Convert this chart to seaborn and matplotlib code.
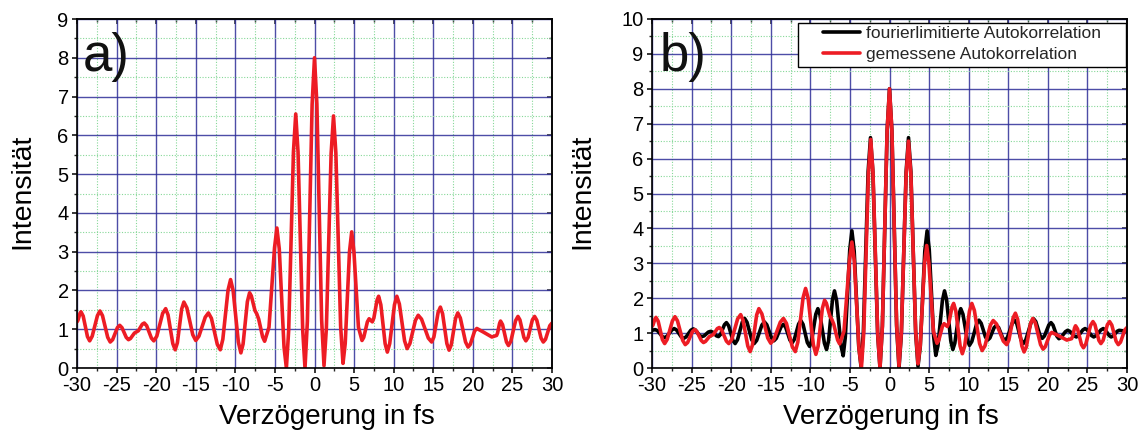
import numpy as np
import pandas as pd
import matplotlib
matplotlib.use("Agg")
import matplotlib.pyplot as plt
import seaborn as sns
from matplotlib.ticker import MultipleLocator, FormatStrFormatter, NullFormatter
from matplotlib.patches import Rectangle

# ---------------- data ----------------
# measured autocorrelation (red), panels a) and b)
meas_x = [-30.0, -29.88, -29.62, -29.5, -29.22, -28.68, -28.4, -28.08, -27.42, -27.1,
          -26.78, -26.12, -25.8, -25.5, -24.9, -24.6, -24.32, -23.78, -23.5, -23.25,
          -22.75, -22.5, -22.25, -21.75, -21.5, -21.2, -20.6, -20.3, -19.92, -19.18,
          -18.8, -18.5, -17.9, -17.6, -17.32, -16.78, -16.5, -16.12, -15.38, -15.0,
          -14.6, -13.8, -13.4, -13.02, -12.28, -11.9, -11.58, -10.92, -10.6, -10.28,
          -9.62, -9.3, -9.02, -8.48, -8.2, -7.98, -7.52, -7.3, -7.05, -6.55,
          -6.3, -5.75, -5.05, -4.75, -4.45, -3.85, -3.55, -3.26, -2.66, -2.37,
          -2.08, -1.49, -1.2, -0.9, -0.3, 0.0, 0.3, 0.9, 1.2, 1.5,
          2.1, 2.4, 2.7, 3.3, 3.6, 3.88, 4.42, 4.7, 4.98, 5.55,
          6.0, 6.22, 6.68, 6.9, 7.3, 7.5, 7.9, 8.1, 8.38, 8.92,
          9.2, 9.5, 10.1, 10.4, 10.72, 11.38, 11.7, 12.05, 12.75, 13.1,
          13.52, 14.38, 14.8, 15.08, 15.62, 15.9, 16.18, 16.72, 17.0, 17.28,
          17.82, 18.1, 18.42, 19.08, 19.4, 19.68, 20.22, 20.5, 21.3, 22.4,
          23.0, 23.12, 23.38, 23.5, 23.75, 24.25, 24.5, 24.8, 25.4, 25.7,
          25.95, 26.45, 26.7, 26.98, 27.52, 27.8, 28.08, 28.62, 28.9, 29.18,
          29.72, 30.0]
meas_y = [1.19, 1.23, 1.41, 1.45, 1.34, 0.81, 0.70, 0.82, 1.35, 1.47,
          1.35, 0.79, 0.67, 0.73, 1.04, 1.10, 1.04, 0.79, 0.73, 0.76,
          0.90, 0.93, 0.96, 1.13, 1.16, 1.09, 0.77, 0.70, 0.82, 1.41,
          1.53, 1.37, 0.63, 0.47, 0.65, 1.52, 1.70, 1.55, 0.86, 0.71,
          0.82, 1.31, 1.42, 1.28, 0.61, 0.47, 0.74, 2.01, 2.28, 2.00,
          0.67, 0.39, 0.62, 1.71, 1.94, 1.86, 1.48, 1.40, 1.26, 0.80,
          0.69, 1.05, 3.10, 3.61, 3.07, 0.54, 0.00, 0.98, 5.57, 6.55,
          5.57, 0.98, 0.00, 1.20, 6.80, 8.00, 6.81, 1.25, 0.06, 1.03,
          5.53, 6.50, 5.54, 1.08, 0.12, 0.63, 3.00, 3.51, 3.00, 1.05,
          0.71, 0.79, 1.19, 1.27, 1.19, 1.29, 1.75, 1.85, 1.63, 0.63,
          0.41, 0.63, 1.63, 1.85, 1.65, 0.70, 0.50, 0.63, 1.23, 1.36,
          1.26, 0.77, 0.67, 0.80, 1.44, 1.57, 1.40, 0.63, 0.46, 0.60,
          1.28, 1.42, 1.29, 0.67, 0.54, 0.61, 0.95, 1.02, 0.93, 0.80,
          0.84, 0.90, 1.15, 1.21, 1.12, 0.67, 0.58, 0.69, 1.22, 1.33,
          1.24, 0.79, 0.70, 0.79, 1.24, 1.33, 1.23, 0.77, 0.67, 0.74,
          1.09, 1.16]

# Fourier-limited autocorrelation (black), panel b)
fl_x = [-30.0, -29.6, -29.3, -28.7, -28.4, -28.1, -27.5, -27.2, -26.9, -26.3,
        -26.0, -25.7, -25.1, -24.8, -24.52, -23.98, -23.7, -23.42, -22.88, -22.6,
        -22.35, -21.85, -21.6, -21.35, -20.85, -20.6, -20.32, -19.78, -19.5, -19.2,
        -18.6, -18.3, -18.0, -17.4, -17.1, -16.78, -16.12, -15.8, -15.5, -14.9,
        -14.6, -14.3, -13.7, -13.4, -13.12, -12.58, -12.3, -12.02, -11.48, -11.2,
        -10.92, -10.38, -10.1, -9.84, -9.31, -9.05, -8.78, -8.22, -7.95, -7.7,
        -7.2, -6.95, -6.68, -6.12, -5.85, -5.58, -5.02, -4.75, -4.46, -3.89,
        -3.6, -3.3, -2.7, -2.4, -2.1, -1.5, -1.2, -0.9, -0.3, 0.0,
        0.3, 0.9, 1.2, 1.5, 2.1, 2.4, 2.7, 3.3, 3.6, 3.89,
        4.46, 4.75, 5.02, 5.58, 5.85, 6.12, 6.68, 6.95, 7.21, 7.74,
        8.0, 8.25, 8.75, 9.0, 9.28, 9.82, 10.1, 10.4, 11.0, 11.3,
        11.58, 12.12, 12.4, 12.68, 13.22, 13.5, 13.78, 14.32, 14.6, 14.9,
        15.5, 15.8, 16.08, 16.62, 16.9, 17.22, 17.88, 18.2, 18.48, 19.02,
        19.3, 19.58, 20.12, 20.4, 20.65, 21.15, 21.4, 21.68, 22.22, 22.5,
        22.78, 23.32, 23.6, 23.88, 24.42, 24.7, 24.98, 25.52, 25.8, 26.1,
        26.7, 27.0, 27.25, 27.75, 28.0, 28.25, 28.75, 29.0, 30.0]
fl_y = [1.08, 1.10, 1.07, 0.90, 0.87, 0.91, 1.09, 1.13, 1.09, 0.89,
        0.85, 0.89, 1.08, 1.12, 1.09, 0.93, 0.90, 0.92, 1.03, 1.05,
        1.03, 0.92, 0.90, 0.96, 1.24, 1.30, 1.21, 0.79, 0.70, 0.81,
        1.31, 1.42, 1.31, 0.81, 0.70, 0.79, 1.23, 1.32, 1.24, 0.86,
        0.78, 0.85, 1.18, 1.25, 1.17, 0.80, 0.72, 0.82, 1.26, 1.36,
        1.25, 0.73, 0.62, 0.78, 1.54, 1.70, 1.52, 0.71, 0.53, 0.78,
        1.96, 2.21, 1.93, 0.63, 0.35, 0.89, 3.39, 3.93, 3.35, 0.63,
        0.05, 1.03, 5.62, 6.60, 5.61, 0.99, 0.00, 1.20, 6.80, 8.00,
        6.80, 1.20, 0.00, 0.99, 5.61, 6.60, 5.62, 1.03, 0.05, 0.63,
        3.35, 3.93, 3.39, 0.90, 0.36, 0.64, 1.93, 2.21, 1.96, 0.78,
        0.53, 0.71, 1.52, 1.70, 1.54, 0.81, 0.65, 0.76, 1.26, 1.37,
        1.28, 0.89, 0.80, 0.86, 1.16, 1.22, 1.16, 0.85, 0.79, 0.88,
        1.28, 1.37, 1.27, 0.80, 0.70, 0.81, 1.30, 1.41, 1.33, 0.93,
        0.85, 0.92, 1.23, 1.30, 1.23, 0.91, 0.84, 0.88, 1.04, 1.08,
        1.05, 0.92, 0.89, 0.93, 1.09, 1.13, 1.09, 0.93, 0.89, 0.93,
        1.09, 1.13, 1.09, 0.93, 0.89, 0.92, 1.05, 1.08, 1.05]

labels = ["fourierlimitierte Autokorrelation", "gemessene Autokorrelation"]
xlabel = "Verzögerung in fs"
ylabel = "Intensität"
panel_tags = ["a)", "b)"]

# ---------------- style ----------------
sns.set_theme(style="white")
plt.rcParams["font.family"] = ["Liberation Sans", "DejaVu Sans"]
plt.rcParams["axes.unicode_minus"] = False

RED = "#ED1C24"
BLACK = "#000000"
GRID_MAJ = "#2e2e98"
GRID_MIN = "#86d898"
LW = 2.6

W, H = 1146, 442
fig = plt.figure(figsize=(W / 100, H / 100), dpi=100)

def px_axes(x0, x1, y0, y1):
    return fig.add_axes([x0 / W, 1 - y1 / H, (x1 - x0) / W, (y1 - y0) / H])

axA = px_axes(77, 552, 19, 368)
axB = px_axes(652, 1127, 19, 368)

df_meas = pd.DataFrame({"x": meas_x, "y": meas_y})
df_fl = pd.DataFrame({"x": fl_x, "y": fl_y})

def style_axes(ax, ymax):
    ax.set_xlim(-30, 30)
    ax.set_ylim(0, ymax)
    ax.xaxis.set_major_locator(MultipleLocator(5))
    ax.xaxis.set_minor_locator(MultipleLocator(2.5))
    ax.yaxis.set_major_locator(MultipleLocator(1))
    ax.yaxis.set_minor_locator(MultipleLocator(0.5))
    ax.xaxis.set_major_formatter(FormatStrFormatter("%d"))
    ax.yaxis.set_major_formatter(FormatStrFormatter("%d"))
    ax.set_axisbelow(True)
    ax.grid(which="minor", color=GRID_MIN, lw=0.8, ls=(0, (1, 1.5)))
    ax.grid(which="major", color=GRID_MAJ, lw=1.0, alpha=0.85, ls="-")
    for s in ax.spines.values():
        s.set_visible(True)
        s.set_color("black")
        s.set_linewidth(1.2)
    ax.tick_params(which="major", direction="out", length=3.5, width=1.1,
                   labelsize=14.5, colors="black", pad=2.0,
                   bottom=True, left=True, top=False, right=False)
    ax.tick_params(which="minor", direction="out", length=2, width=1.0,
                   bottom=True, left=True, top=False, right=False)
    ax.tick_params(axis="y", which="major", pad=2.5)
    # inward ticks on top / right
    sx = ax.secondary_xaxis("top")
    sx.xaxis.set_major_locator(MultipleLocator(5))
    sx.xaxis.set_minor_locator(MultipleLocator(2.5))
    sx.xaxis.set_major_formatter(NullFormatter())
    sx.tick_params(which="major", direction="in", length=3.5, width=1.1)
    sx.tick_params(which="minor", direction="in", length=2, width=1.0)
    sx.spines["top"].set_linewidth(1.2)
    sy = ax.secondary_yaxis("right")
    sy.yaxis.set_major_locator(MultipleLocator(1))
    sy.yaxis.set_minor_locator(MultipleLocator(0.5))
    sy.yaxis.set_major_formatter(NullFormatter())
    sy.tick_params(which="major", direction="in", length=3.5, width=1.1)
    sy.tick_params(which="minor", direction="in", length=2, width=1.0)
    sy.spines["right"].set_linewidth(1.2)
    ax.set_xlabel(xlabel, fontsize=20, color="black")
    ax.set_ylabel(ylabel, fontsize=20.5, color="black")

# ---- panel a ----
sns.lineplot(data=df_meas, x="x", y="y", ax=axA, color=RED, lw=LW,
             sort=False, estimator=None, legend=False)
style_axes(axA, 9)
axA.xaxis.set_label_coords(0.527, -0.104)
axA.yaxis.set_label_coords(-0.088, 0.505)
axA.text(0.012, 0.962, panel_tags[0], transform=axA.transAxes, fontsize=38,
         ha="left", va="top", color="#111111")

# ---- panel b ----
sns.lineplot(data=df_fl, x="x", y="y", ax=axB, color=BLACK, lw=LW,
             sort=False, estimator=None, label=labels[0])
sns.lineplot(data=df_meas, x="x", y="y", ax=axB, color=RED, lw=LW,
             sort=False, estimator=None, label=labels[1])
style_axes(axB, 10)
axB.xaxis.set_label_coords(0.503, -0.104)
axB.yaxis.set_label_coords(-0.12, 0.505)
axB.text(0.017, 0.962, panel_tags[1], transform=axB.transAxes, fontsize=38,
         ha="left", va="top", color="#111111")

# legend frame (white box with black border)
fx0 = (798 - 652) / 475
fy0 = (368 - 67) / 349
frame = Rectangle((fx0, fy0), 1 - fx0 - 0.002, (67 - 23) / 349,
                  transform=axB.transAxes, facecolor="white",
                  edgecolor="black", lw=1.0, zorder=4)
axB.add_patch(frame)
leg = axB.legend(loc="upper left", bbox_to_anchor=((823 - 652) / 475, (368 - 26) / 349),
                 frameon=False, fontsize=12.5, handlelength=2.15,
                 handletextpad=0.3, borderpad=0.0, borderaxespad=0.0,
                 labelspacing=0.32)
leg.set_zorder(5)
for line in leg.get_lines():
    line.set_linewidth(LW)

fig.savefig("out.png", dpi=100)
